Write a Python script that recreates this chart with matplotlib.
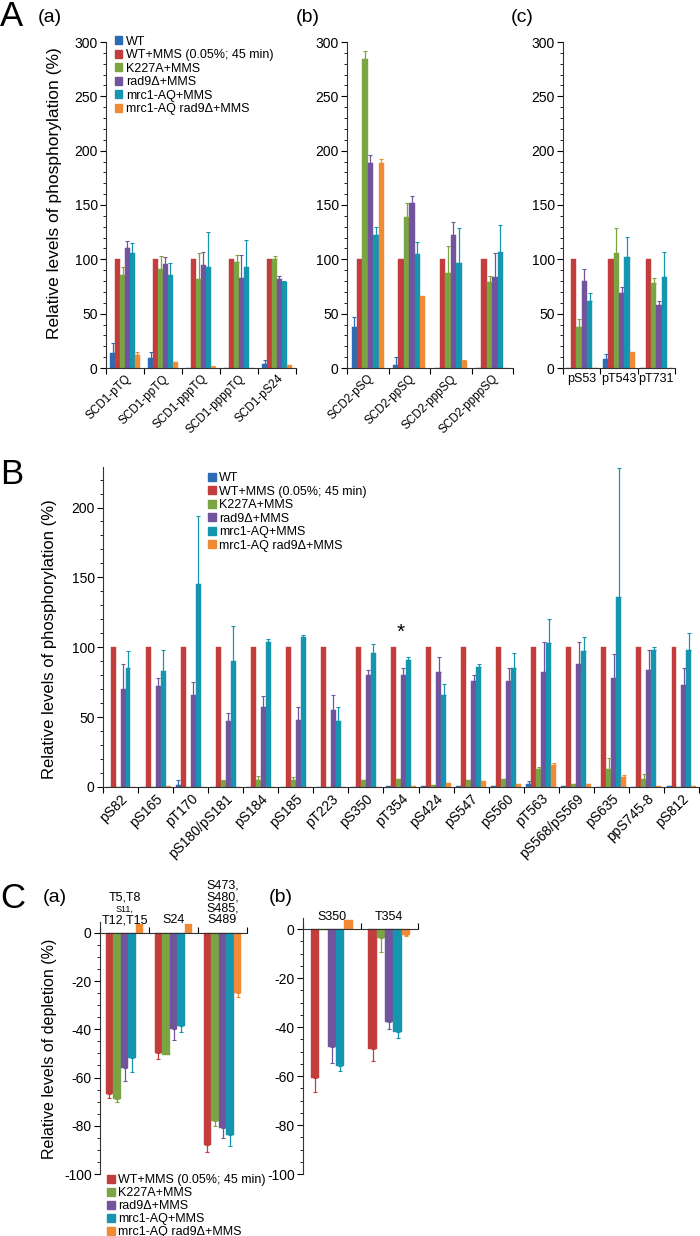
import numpy as np
import matplotlib
matplotlib.use('Agg')
import matplotlib.pyplot as plt
from matplotlib.ticker import MultipleLocator
from matplotlib.patches import Patch

plt.rcParams['font.family'] = ['Liberation Sans', 'DejaVu Sans']
plt.rcParams['axes.unicode_minus'] = False

W, H = 700, 1236

series = ['WT', 'WT+MMS (0.05%; 45 min)', 'K227A+MMS', 'rad9Δ+MMS',
          'mrc1-AQ+MMS', 'mrc1-AQ rad9Δ+MMS']
colors = ['#2C6CB3', '#C23D3B', '#7BA443', '#71549C', '#1595B0', '#F08A35']

# ---- panel A(a): SCD1 ----
a1_cats = ['SCD1-pTQ', 'SCD1-ppTQ', 'SCD1-pppTQ', 'SCD1-ppppTQ', 'SCD1-pS24']
a1_vals = [[14, 9, 0, 0, 4],
           [100, 100, 100, 100, 100],
           [86, 91, 82, 98, 100],
           [110, 96, 95, 83, 82],
           [106, 86, 93, 93, 79],
           [12, 5.5, 1, 0, 3]]
a1_err = [[9, 6, 0, 0, 3],
          [0, 0, 0, 0, 0],
          [7, 12, 24, 6, 3],
          [7, 6, 12, 21, 3],
          [9, 11, 32, 25, 1],
          [3, 0, 1, 0, 0]]

# ---- panel A(b): SCD2 ----
a2_cats = ['SCD2-pSQ', 'SCD2-ppSQ', 'SCD2-pppSQ', 'SCD2-ppppSQ']
a2_vals = [[38, 3, 0, 0],
           [100, 100, 100, 100],
           [284, 139, 87, 79],
           [189, 152, 122, 84],
           [122, 105, 97, 107],
           [189, 66, 6, 0]]
a2_err = [[9, 7, 0, 0],
          [0, 0, 0, 0],
          [8, 13, 25, 6],
          [7, 6, 12, 22],
          [8, 11, 32, 25],
          [3, 0, 1, 0]]

# ---- panel A(c) ----
a3_cats = ['pS53', 'pT543', 'pT731']
a3_vals = [[0, 8, 0],
           [100, 100, 100],
           [38, 106, 78],
           [80, 69, 58],
           [62, 102, 84],
           [0, 15, 0]]
a3_err = [[0, 5, 0],
          [0, 0, 0],
          [7, 23, 5],
          [11, 6, 4],
          [7, 19, 23],
          [0, 0, 0]]

# ---- panel B ----
b_cats = ['pS82', 'pS165', 'pT170', 'pS180/pS181', 'pS184', 'pS185', 'pT223',
          'pS350', 'pT354', 'pS424', 'pS547', 'pS560', 'pT563', 'pS568/pS569',
          'pS635', 'ppS745-8', 'pS812']
b_vals = [[0, 0.3, 1.5, 0, 0, 0, 0, 0.3, 0.5, 0.5, 0.5, 1, 2, 0.8, 0, 0, 0.4],
          [100] * 17,
          [0, 0, 0, 4, 5, 5, 0, 5, 6, 1.5, 5, 6, 13, 2, 13, 6, 0],
          [70, 72, 66, 47, 57, 48, 55, 80, 80, 82, 76, 76, 82, 88, 78, 84, 73],
          [85, 83, 145, 90, 104, 107, 47, 96, 91, 66, 86, 85, 103, 97, 136, 98, 98],
          [0, 1, 0, 0, 0, 0, 0, 0, 0.5, 3, 4.5, 2.5, 16, 2.5, 7, 1, 1]]
b_err = [[0, 0, 3.5, 0, 0, 0, 0, 0, 0, 0, 0, 0, 2, 0, 0, 0, 0],
         [0] * 17,
         [0, 0, 0, 1, 3, 2, 0, 0, 0, 0, 0, 0, 1, 0, 8, 3, 0],
         [18, 6, 9, 6, 8, 9, 11, 4, 5, 11, 4, 9, 22, 16, 17, 14, 12],
         [12.5, 15, 49, 25, 2, 2, 10, 6, 2, 8, 2, 11, 17, 10, 92, 2, 12],
         [0, 0, 0, 0, 0, 0, 0, 0, 0, 0, 0, 0, 1, 0, 1.5, 0, 0]]
b_star = 'pT354'

# ---- panel C (no WT series) ----
c1_cats = [['T5,T8', 'S11,', 'T12,T15'], ['S24'], ['S473,', 'S480,', 'S485,', 'S489']]
c1_vals = [[-67, -50, -88],
           [-69, -50.5, -78],
           [-56, -40, -81],
           [-52, -38.5, -84],
           [3.5, 3.5, -25]]
c1_err = [[1.5, 2.5, 3],
          [1, 0, 2],
          [5.5, 4.5, 4],
          [5.5, 2.5, 4.5],
          [0, 0, 1.5]]

c2_cats = ['S350', 'T354']
c2_vals = [[-61, -49],
           [-0.5, -3.5],
           [-48, -38],
           [-56, -42],
           [3.5, -2.5]]
c2_err = [[5.5, 5],
          [0, 6],
          [6.5, 3],
          [2, 2.5],
          [0, 0.5]]


def px_axes(fig, left, top, right, bottom):
    return fig.add_axes([left / W, 1 - bottom / H, (right - left) / W, (bottom - top) / H])


def draw_bars(ax, vals, errs, width, idx):
    n = len(vals)
    for k in range(n):
        v = np.array(vals[k], float)
        e = np.array(errs[k], float)
        x = np.arange(len(v)) + (k - (n - 1) / 2) * width
        c = colors[idx[k]]
        ax.bar(x, v, width, color=c, edgecolor=c, linewidth=0.3, zorder=2)
        m = e > 0
        if m.any():
            lo = np.where(v < 0, e, 0)
            hi = np.where(v >= 0, e, 0)
            ax.errorbar(x[m], v[m], yerr=[lo[m], hi[m]], fmt='none', ecolor=c,
                        elinewidth=0.9, capsize=1.6, capthick=0.8, zorder=3)


def style_axes(ax, ncat, ymin, ymax, major, minor):
    ax.set_xlim(-0.5, ncat - 0.5)
    ax.set_ylim(ymin, ymax)
    for s in ['top', 'right']:
        ax.spines[s].set_visible(False)
    for s in ['left', 'bottom']:
        ax.spines[s].set_linewidth(0.8)
        ax.spines[s].set_color('#333333')
    ax.yaxis.set_major_locator(MultipleLocator(major))
    ax.yaxis.set_minor_locator(MultipleLocator(minor))
    ax.tick_params(axis='y', which='major', length=4, width=0.8, labelsize=10, pad=2)
    ax.tick_params(axis='y', which='minor', length=2.5, width=0.6)
    ax.set_xticks(np.arange(ncat + 1) - 0.5)
    ax.set_xticklabels([])
    ax.tick_params(axis='x', which='major', length=4, width=0.8)
    ax.set_xticks(np.arange(ncat), minor=True)
    ax.tick_params(axis='x', which='minor', length=0)


fig = plt.figure(figsize=(W / 100, H / 100), dpi=100)

# ---- A ----
ax = px_axes(fig, 106, 42, 296, 368)
draw_bars(ax, a1_vals, a1_err, 0.13, range(6))
style_axes(ax, len(a1_cats), 0, 300, 50, 10)
ax.set_xticklabels(a1_cats, minor=True, rotation=45, ha='right',
                   rotation_mode='anchor', fontsize=8.5)
handles = [Patch(facecolor=c, edgecolor=c) for c in colors]
ax.legend(handles, series, loc='upper left', bbox_to_anchor=(0.02, 1.035),
          frameon=False, fontsize=9, handlelength=0.6, handleheight=0.6,
          handletextpad=0.3, labelspacing=0.12, borderaxespad=0)

ax = px_axes(fig, 347, 42, 513, 368)
draw_bars(ax, a2_vals, a2_err, 0.13, range(6))
style_axes(ax, len(a2_cats), 0, 300, 50, 10)
ax.set_xticklabels(a2_cats, minor=True, rotation=45, ha='right',
                   rotation_mode='anchor', fontsize=8.5)

ax = px_axes(fig, 563, 42, 675, 368)
draw_bars(ax, a3_vals, a3_err, 0.142, range(6))
style_axes(ax, len(a3_cats), 0, 300, 50, 10)
ax.set_xticklabels(a3_cats, minor=True, fontsize=9)

fig.text(55 / W, 1 - 193 / H, 'Relative levels of phosphorylation (%)',
         rotation=90, ha='center', va='center', fontsize=12.5)

# ---- B ----
ax = px_axes(fig, 103, 467, 699, 787)
draw_bars(ax, b_vals, b_err, 0.142, range(6))
style_axes(ax, len(b_cats), 0, 229, 50, 10)
ax.set_xticklabels(b_cats, minor=True, rotation=45, ha='right',
                   rotation_mode='anchor', fontsize=10)
ax.text(b_cats.index(b_star), 111, '*', ha='center', va='center', fontsize=15)
ax.legend(handles, series, loc='upper left', bbox_to_anchor=(0.168, 1.0),
          frameon=False, fontsize=9, handlelength=0.6, handleheight=0.6,
          handletextpad=0.3, labelspacing=0.12, borderaxespad=0)
fig.text(50 / W, 1 - 639 / H, 'Relative levels of phosphorylation (%)',
         rotation=90, ha='center', va='center', fontsize=12)

# ---- C ----
def style_c(ax, ncat):
    style_axes(ax, ncat, -100, 4.5, 20, 5)
    ax.spines['bottom'].set_position(('data', 0))
    ax.tick_params(axis='x', which='major', direction='in', length=4)
    ax.tick_params(axis='x', which='minor', labelbottom=False)


ax = px_axes(fig, 100, 922, 247, 1174)
draw_bars(ax, c1_vals, c1_err, 0.155, range(1, 6))
style_c(ax, len(c1_cats))
for i, lines in enumerate(c1_cats):
    n = len(lines)
    for j, line in enumerate(lines):
        small = line == 'S11,'
        ax.annotate(line, xy=(i, 0), xycoords='data',
                    xytext=(0, 9 + (n - 1 - j) * 8.3), textcoords='offset points',
                    ha='center', va='center', fontsize=6.5 if small else 9)
fig.text(50 / W, 1 - 1049 / H, 'Relative levels of depletion (%)',
         rotation=90, ha='center', va='center', fontsize=11.5)

ax = px_axes(fig, 303, 918, 418, 1174)
draw_bars(ax, c2_vals, c2_err, 0.145, range(1, 6))
style_c(ax, len(c2_cats))
for i, lab in enumerate(c2_cats):
    ax.annotate(lab, xy=(i, 0), xycoords='data', xytext=(0, 9),
                textcoords='offset points', ha='center', va='center', fontsize=9)

fig.legend(handles[1:], series[1:], loc='upper left',
           bbox_to_anchor=(107 / W, 1 - 1174 / H), frameon=False, fontsize=9,
           handlelength=0.6, handleheight=0.6, handletextpad=0.3,
           labelspacing=0.08, borderaxespad=0, borderpad=0)

# ---- panel letters ----
for lab, x, y, fs in [('A', 0, 17, 25), ('(a)', 38, 17, 14), ('(b)', 296, 17, 14),
                      ('(c)', 511, 17, 14), ('B', 0, 474, 25), ('C', 0, 898, 25),
                      ('(a)', 43, 898, 14), ('(b)', 269, 898, 14)]:
    fig.text(x / W, 1 - y / H, lab, ha='left', va='center', fontsize=fs)

fig.savefig('out.png', dpi=100)
